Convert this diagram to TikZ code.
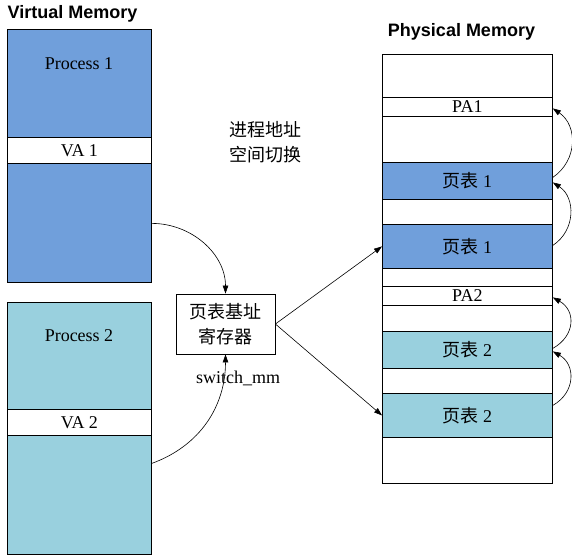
\documentclass[tikz,border=0pt]{standalone}
\usepackage{fontspec}
\setmainfont{Liberation Serif}
\setsansfont{Liberation Sans}
\newfontfamily\cjk{Noto Sans CJK SC}
\usetikzlibrary{arrows.meta}
\definecolor{vblue}{RGB}{112,159,219}
\definecolor{vteal}{RGB}{153,208,222}
\begin{document}
\begin{tikzpicture}[x=1pt,y=-1pt,
  box/.style={draw=black, line width=0.8pt, inner sep=0pt, anchor=north west},
  lab/.style={font=\fontsize{18}{25}\selectfont, inner sep=0pt},
  title/.style={font=\fontsize{18}{22}\selectfont\sffamily\bfseries, inner sep=0pt},
  arr/.style={-{Triangle[length=8pt,width=5.5pt]}, line width=0.6pt}]
\useasboundingbox (0,0) rectangle (572,555);

% titles
\node[title] (vmt) at (72.5,14) {Virtual Memory};
\node[title] (pmt) at (461.5,32) {Physical Memory};

% virtual memory
\node[box, fill=vblue, minimum width=144pt, minimum height=253pt] (p1) at (7,29) {};
\node[box, fill=white, minimum width=144pt, minimum height=26pt, lab] (va1) at (7,137) {VA 1};
\node[lab] (p1l) at (79,64) {Process 1};

\node[box, fill=vteal, minimum width=144pt, minimum height=252pt] (p2) at (7,302) {};
\node[box, fill=white, minimum width=144pt, minimum height=26pt, lab] (va2) at (7,409) {VA 2};
\node[lab] (p2l) at (79,336) {Process 2};

% register
\node[draw=black, line width=0.8pt, fill=white, minimum width=99pt, minimum height=60pt,
      align=center, lab] (reg) at (225.5,324) {\cjk 页表基址\\\cjk 寄存器};
\node[lab] (sw) at (238,378) {switch\_mm};
\node[lab, align=center] (sp) at (265,142.5) {\cjk 进程地址\\\cjk 空间切换};

% physical memory
\node[box, fill=white, minimum width=170pt, minimum height=429pt] (pm) at (382,54) {};
\node[box, fill=white, minimum width=170pt, minimum height=19pt, lab] (pa1) at (382,97) {PA1};
\node[box, fill=vblue, minimum width=170pt, minimum height=37pt, lab] (t1a) at (382,162) {{\cjk 页表} 1};
\node[box, fill=vblue, minimum width=170pt, minimum height=44pt, lab] (t1b) at (382,224) {{\cjk 页表} 1};
\node[box, fill=white, minimum width=170pt, minimum height=19pt, lab] (pa2) at (382,286) {PA2};
\node[box, fill=vteal, minimum width=170pt, minimum height=37pt, lab] (t2a) at (382,331) {{\cjk 页表} 2};
\node[box, fill=vteal, minimum width=170pt, minimum height=44pt, lab] (t2b) at (382,393) {{\cjk 页表} 2};

% connectors
\draw[arr] ([yshift=-67.5pt]p1.east) to[out=0,in=90] (reg.north);
\draw[arr] ([yshift=-35pt]p2.east) to[out=20,in=-90] (reg.south);
\draw[arr] (reg.east) -- (t1b.west);
\draw[arr] (reg.east) -- (t2b.west);

\draw[arr] ([yshift=1pt]t1b.east) .. controls +(23,-15) and +(23,15) .. ([yshift=-1.5pt]t1a.east);
\draw[arr] ([yshift=3.5pt]t1a.east) .. controls +(25,-17) and +(25,17) .. ([yshift=-1.5pt]pa1.east);
\draw[arr] ([yshift=10pt]t2b.east) .. controls +(23,-13) and +(23,13) .. ([yshift=-1.5pt]t2a.east);
\draw[arr] ([yshift=1.5pt]t2a.east) .. controls +(23,-13) and +(23,13) .. ([yshift=-1.5pt]pa2.east);
\end{tikzpicture}
\end{document}
